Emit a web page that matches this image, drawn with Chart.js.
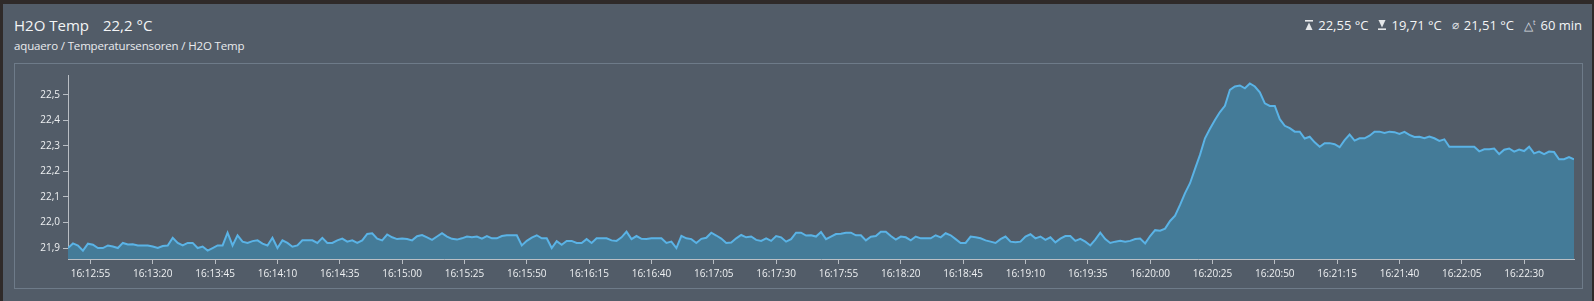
<!DOCTYPE html>
<html>
<head>
<meta charset="utf-8">
<title>H2O Temp</title>
<script src="https://cdn.jsdelivr.net/npm/chart.js@4/dist/chart.umd.min.js"></script>
<style>
  html, body { margin: 0; padding: 0; }
  body {
    position: relative;
    width: 1594px;
    height: 301px;
    overflow: hidden;
    background: #2f2a29;
    font-family: "Open Sans", "Noto Sans", sans-serif;
    color: #f4f5f6;
  }
  .card { position: absolute; left: 3px; top: 4px; width: 1589px; height: 297px; background: #525c68; }
  .title { position: absolute; left: 14px; top: 15px; font-size: 15px; line-height: 20px; white-space: nowrap; }
  .title .value { margin-left: 14px; }
  .path { position: absolute; left: 14px; top: 38px; font-size: 11.5px; letter-spacing: -0.15px; line-height: 15px; color: #e9ebee; white-space: nowrap; }
  .stats { position: absolute; right: 12px; top: 14px; font-size: 13px; line-height: 18px; white-space: nowrap; display: flex; align-items: center; }
  .stats svg { margin-right: 5px; }
  .stats .item { margin-left: 10px; display: flex; align-items: center; }
  .stats .dt { font-size: 12px; color: #d8dce0; margin-right: 5px; }
  .stats .dt sup { font-size: 7px; }
  .panel { position: absolute; left: 14px; top: 63px; width: 1569px; height: 226px; box-sizing: border-box; border: 1px solid #6e7b89; }
  .panel canvas { position: absolute; left: 0; top: 0; }
</style>
</head>
<body>
<div class="card"></div>
<div class="title">H2O Temp<span class="value">22,2 °C</span></div>
<div class="path">aquaero / Temperatursensoren / H2O Temp</div>
<div class="stats">
  <span class="item"><svg width="8" height="10" viewBox="0 0 8 10"><rect x="0" y="0" width="8" height="1.6" fill="#e6e8ea"/><path d="M4 2.5 L7.5 10 L0.5 10 Z" fill="#e6e8ea"/></svg>22,55 °C</span>
  <span class="item"><svg width="8" height="10" viewBox="0 0 8 10"><path d="M0.5 0 L7.5 0 L4 7.5 Z" fill="#e6e8ea"/><rect x="0" y="8.4" width="8" height="1.6" fill="#e6e8ea"/></svg>19,71 °C</span>
  <span class="item"><span class="dt">⌀</span>21,51 °C</span>
  <span class="item"><span class="dt">△<sup>t</sup></span>60 min</span>
</div>
<div class="panel"><canvas id="tempChart" width="1567" height="224"></canvas></div>

<script>
// readings, one every 2 s, starting at this time
const startTime = "16:12:46";
const stepSeconds = 2;
const h2oTemp = [
  21.90, 21.918, 21.91, 21.89, 21.917, 21.913, 21.90, 21.90, 21.91, 21.906,
  21.90, 21.92, 21.914, 21.915, 21.91, 21.91, 21.91, 21.906, 21.90, 21.908,
  21.91, 21.94, 21.92, 21.91, 21.92, 21.92, 21.90, 21.906, 21.89, 21.90,
  21.91, 21.91, 21.96, 21.91, 21.95, 21.925, 21.92, 21.927, 21.93, 21.917,
  21.91, 21.94, 21.90, 21.93, 21.92, 21.905, 21.91, 21.93, 21.93, 21.93,
  21.92, 21.94, 21.92, 21.92, 21.93, 21.937, 21.925, 21.93, 21.92, 21.93,
  21.955, 21.958, 21.937, 21.93, 21.953, 21.942, 21.935, 21.937, 21.935, 21.93,
  21.946, 21.951, 21.942, 21.932, 21.945, 21.958, 21.945, 21.936, 21.933, 21.938,
  21.945, 21.942, 21.945, 21.937, 21.947, 21.938, 21.938, 21.947, 21.95, 21.95,
  21.95, 21.91, 21.928, 21.941, 21.95, 21.938, 21.938, 21.90, 21.927, 21.913,
  21.928, 21.928, 21.92, 21.92, 21.935, 21.92, 21.938, 21.938, 21.938, 21.93,
  21.928, 21.942, 21.964, 21.935, 21.947, 21.936, 21.935, 21.938, 21.938, 21.938,
  21.92, 21.925, 21.90, 21.948, 21.938, 21.935, 21.92, 21.936, 21.94, 21.96,
  21.949, 21.937, 21.92, 21.922, 21.938, 21.951, 21.942, 21.945, 21.932, 21.928,
  21.938, 21.928, 21.947, 21.942, 21.925, 21.935, 21.96, 21.96, 21.949, 21.95,
  21.945, 21.963, 21.935, 21.945, 21.955, 21.956, 21.96, 21.96, 21.95, 21.95,
  21.93, 21.944, 21.947, 21.964, 21.964, 21.947, 21.933, 21.945, 21.942, 21.93,
  21.945, 21.938, 21.938, 21.938, 21.95, 21.942, 21.958, 21.95, 21.935, 21.92,
  21.92, 21.945, 21.942, 21.938, 21.93, 21.925, 21.92, 21.935, 21.945, 21.925,
  21.923, 21.925, 21.945, 21.954, 21.938, 21.945, 21.932, 21.942, 21.922, 21.937,
  21.947, 21.947, 21.928, 21.936, 21.925, 21.91, 21.933, 21.96, 21.935, 21.92,
  21.925, 21.928, 21.925, 21.928, 21.935, 21.937, 21.918, 21.947, 21.97, 21.968,
  21.976, 22.006, 22.027, 22.069, 22.115, 22.154, 22.21, 22.265, 22.33, 22.367,
  22.402, 22.433, 22.457, 22.52, 22.533, 22.537, 22.526, 22.545, 22.533, 22.51,
  22.467, 22.457, 22.457, 22.405, 22.379, 22.37, 22.356, 22.356, 22.329, 22.336,
  22.314, 22.297, 22.311, 22.311, 22.307, 22.295, 22.323, 22.345, 22.321, 22.33,
  22.33, 22.34, 22.356, 22.356, 22.351, 22.356, 22.354, 22.347, 22.355, 22.343,
  22.335, 22.336, 22.33, 22.337, 22.33, 22.32, 22.326, 22.297, 22.297, 22.297,
  22.297, 22.297, 22.297, 22.279, 22.287, 22.287, 22.29, 22.268, 22.285, 22.29,
  22.278, 22.286, 22.28, 22.297, 22.271, 22.278, 22.268, 22.278, 22.276, 22.248,
  22.248, 22.256, 22.248
];

// axis window
const xRange = ["16:12:46", "16:22:50"];
const xStepSeconds = 25;
const yRange = [21.857, 22.578];
const yStep = 0.1;

function toSeconds(hms) {
  const [h, m, s] = hms.split(":").map(Number);
  return h * 3600 + m * 60 + s;
}

function toClock(sec) {
  const pad = n => String(n).padStart(2, "0");
  const s = Math.round(sec);
  return pad(Math.floor(s / 3600)) + ":" + pad(Math.floor(s / 60) % 60) + ":" + pad(s % 60);
}

const t0 = toSeconds(startTime);
const points = h2oTemp.map((v, i) => ({ x: t0 + i * stepSeconds, y: v }));

const axisColor = "#b9bec4";
const labelColor = "#eef0f2";
const tickFont = { family: "'Open Sans', 'Noto Sans', sans-serif", size: 10 };

new Chart(document.getElementById("tempChart"), {
  type: "line",
  data: {
    datasets: [{
      label: "H2O Temp",
      data: points,
      borderColor: "#5ab3e6",
      backgroundColor: "#447b98",
      borderWidth: 2,
      fill: "start",
      pointRadius: 0,
      tension: 0
    }]
  },
  options: {
    responsive: false,
    animation: false,
    devicePixelRatio: 1,
    layout: { padding: { top: 11, right: 8, left: 0, bottom: 0 } },
    plugins: { legend: { display: false }, tooltip: { enabled: false } },
    scales: {
      x: {
        type: "linear",
        min: toSeconds(xRange[0]),
        max: toSeconds(xRange[1]),
        afterFit: s => { s.height = 29; },
        border: { color: axisColor, width: 1 },
        grid: { drawOnChartArea: false, color: axisColor, tickLength: 5 },
        ticks: {
          stepSize: xStepSeconds,
          includeBounds: false,
          autoSkip: false,
          maxRotation: 0,
          padding: 4,
          color: labelColor,
          font: tickFont,
          callback: v => toClock(v)
        }
      },
      y: {
        min: yRange[0],
        max: yRange[1],
        afterFit: s => { s.width = 53; },
        border: { color: axisColor, width: 1 },
        grid: { drawOnChartArea: false, color: axisColor, tickLength: 5 },
        ticks: {
          stepSize: yStep,
          includeBounds: false,
          padding: 3,
          color: labelColor,
          font: tickFont,
          callback: v => v.toFixed(1).replace(".", ",")
        }
      }
    }
  }
});
</script>
</body>
</html>
